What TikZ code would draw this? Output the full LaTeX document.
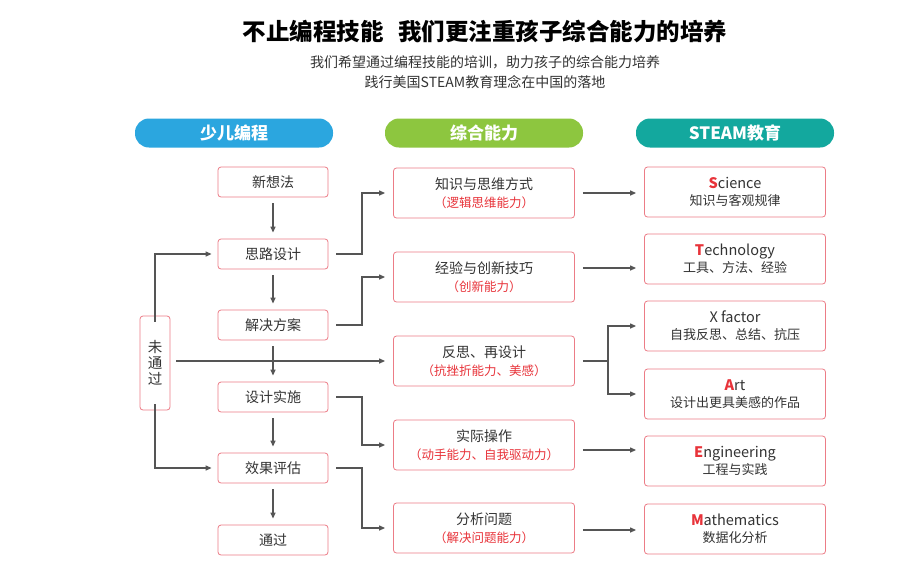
\documentclass[tikz,border=0pt]{standalone}
\usepackage{fontspec}
\setmainfont{Noto Sans CJK SC}
\usetikzlibrary{arrows.meta}
\definecolor{pk}{HTML}{EC7C86}
\definecolor{rd}{HTML}{E8333A}
\definecolor{ln}{HTML}{555555}
\definecolor{bl}{HTML}{2BA6DF}
\definecolor{gr}{HTML}{8DC63F}
\definecolor{tl}{HTML}{13A89E}
\definecolor{tx}{HTML}{333333}
\begin{document}
\begin{tikzpicture}[x=1pt,y=-1pt,
 box/.style={draw=pk,line width=0.8pt,rounded corners=3pt,fill=white,text=tx,align=center,font=\fontsize{14}{18}\selectfont},
 lb/.style={box,minimum width=110pt,minimum height=30pt},
 mb/.style={box,minimum width=181pt,minimum height=50pt},
 pill/.style={rounded corners=14pt,minimum width=198pt,minimum height=29pt,text=white,font=\fontsize{17}{18}\selectfont\bfseries},
 ar/.style={draw=ln,line width=1.2pt,-{Triangle[length=6pt,width=5pt]}},
 li/.style={draw=ln,line width=1.2pt}]
\useasboundingbox (0,0) rectangle (900,568);
\fill[white] (0,0) rectangle (900,568);
\node[text=black,font=\fontsize{23.5}{26}\selectfont\bfseries] (title) at (485,31) {不止编程技能\hspace{0.6em}我们更注重孩子综合能力的培养};
\node[text=tx,font=\fontsize{14}{20}\selectfont,align=center] (sub) at (485,72) {我们希望通过编程技能的培训，助力孩子的综合能力培养\\践行美国STEAM教育理念在中国的落地};
\node[pill,fill=bl] (p1) at (234,133) {少儿编程};
\node[pill,fill=gr] (p2) at (484,133) {综合能力};
\node[pill,fill=tl] (p3) at (735,133) {STEAM教育};
% left column
\node[lb] (a1) at (273,182) {新想法};
\node[lb] (a2) at (273,254) {思路设计};
\node[lb] (a3) at (273,325) {解决方案};
\node[lb] (a4) at (273,397) {设计实施};
\node[lb] (a5) at (273,468) {效果评估};
\node[lb] (a6) at (273,540) {通过};
\node[box,minimum width=30pt,minimum height=94pt,inner sep=1pt,font=\fontsize{14.5}{16}\selectfont] (w) at (155,363) {未\\通\\过};
% middle
\node[mb] (m1) at (484,193) {知识与思维方式\\{\color{rd}\fontsize{12.5}{16}\selectfont（逻辑思维能力）}};
\node[mb] (m2) at (484,277) {经验与创新技巧\\{\color{rd}\fontsize{12.5}{16}\selectfont（创新能力）}};
\node[mb] (m3) at (484,361) {反思、再设计\\{\color{rd}\fontsize{12.5}{16}\selectfont（抗挫折能力、美感）}};
\node[mb] (m4) at (484,445) {实际操作\\{\color{rd}\fontsize{12.5}{16}\selectfont（动手能力、自我驱动力）}};
\node[mb] (m5) at (484,528) {分析问题\\{\color{rd}\fontsize{12.5}{16}\selectfont（解决问题能力）}};
% right
\node[mb,font=\fontsize{14.5}{17}\selectfont] (r1) at (735,192) {{\color{rd}\bfseries S}cience\\{\fontsize{13}{16}\selectfont 知识与客观规律}};
\node[mb,font=\fontsize{14.5}{17}\selectfont] (r2) at (735,259) {{\color{rd}\bfseries T}echnology\\{\fontsize{13}{16}\selectfont 工具、方法、经验}};
\node[mb,font=\fontsize{14.5}{17}\selectfont] (r3) at (735,326) {X factor\\{\fontsize{13}{16}\selectfont 自我反思、总结、抗压}};
\node[mb,font=\fontsize{14.5}{17}\selectfont] (r4) at (735,394) {{\color{rd}\bfseries A}rt\\{\fontsize{13}{16}\selectfont 设计出更具美感的作品}};
\node[mb,font=\fontsize{14.5}{17}\selectfont] (r5) at (735,461) {{\color{rd}\bfseries E}ngineering\\{\fontsize{13}{16}\selectfont 工程与实践}};
\node[mb,font=\fontsize{14.5}{17}\selectfont] (r6) at (735,529) {{\color{rd}\bfseries M}athematics\\{\fontsize{13}{16}\selectfont 数据化分析}};
% vertical arrows left
\foreach \s/\t in {a1/a2,a2/a3,a3/a4,a4/a5,a5/a6}
  \draw[ar,shorten <=6pt,shorten >=6pt] (\s.south) -- (\t.north);
% left to middle
\draw[ar] ([xshift=8pt]a2.east) -| (362,193) -- ([xshift=-8pt]m1.west|-0,193);
\draw[ar] ([xshift=8pt]a3.east) -| (362,277) -- ([xshift=-8pt]m2.west|-0,277);
\draw[ar] ([xshift=8pt]a4.east) -| (362,445) -- ([xshift=-8pt]m4.west|-0,445);
\draw[ar] ([xshift=8pt]a5.east) -| (362,528) -- ([xshift=-8pt]m5.west|-0,528);
\draw[ar] ([xshift=6pt]w.east|-0,361) -- ([xshift=-8pt]m3.west|-0,361);
% loop back
\draw[ar] ([yshift=-6pt]w.north) |- ([xshift=-6pt]a2.west);
\draw[ar] ([yshift=6pt]w.south) |- ([xshift=-6pt]a5.west);
% middle to right
\draw[ar] ([xshift=8pt]m1.east|-0,193) -- ([xshift=-8pt]r1.west|-0,193);
\draw[ar] ([xshift=8pt]m2.east|-0,268) -- ([xshift=-8pt]r2.west|-0,268);
\draw[li] ([xshift=8pt]m3.east|-0,361) -- (608,361);
\draw[ar] (608,361) |- ([xshift=-8pt]r3.west);
\draw[ar] (608,361) |- ([xshift=-8pt]r4.west);
\draw[ar] ([xshift=8pt]m4.east|-0,450) -- ([xshift=-8pt]r5.west|-0,450);
\draw[ar] ([xshift=8pt]m5.east|-0,530) -- ([xshift=-8pt]r6.west|-0,530);
\end{tikzpicture}
\end{document}
